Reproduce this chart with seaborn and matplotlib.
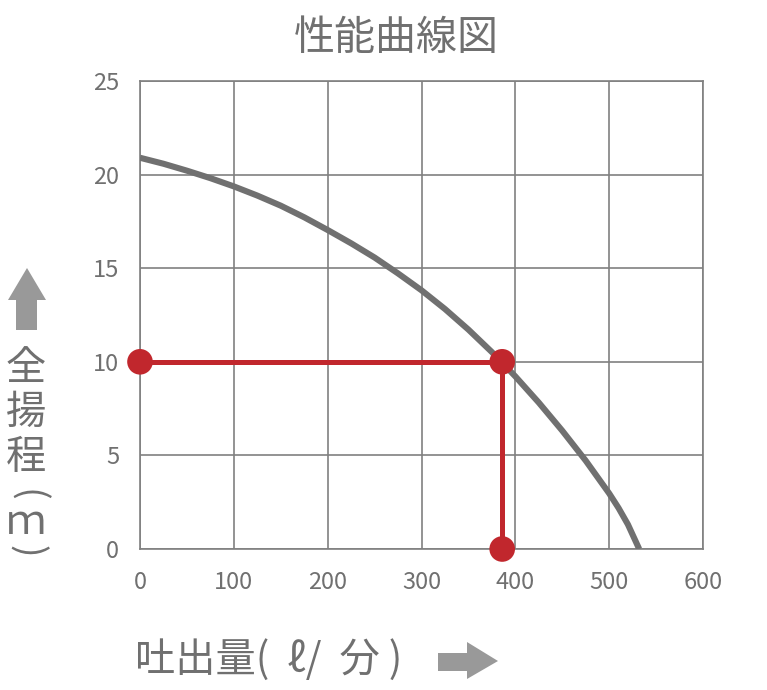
import numpy as np
import pandas as pd
import matplotlib
matplotlib.use('Agg')
import matplotlib.pyplot as plt
from matplotlib.patches import Polygon
import seaborn as sns

# curve
caudal = [0, 25, 50, 75, 100, 125, 150, 175, 200, 225, 250, 275, 300,
          325, 350, 375, 400, 425, 450, 475, 500, 510, 520, 532]
altura = [20.9, 20.58, 20.21, 19.81, 19.37, 18.88, 18.34, 17.72, 17.04,
          16.33, 15.57, 14.72, 13.82, 12.82, 11.72, 10.52, 9.22, 7.82,
          6.32, 4.72, 2.97, 2.19, 1.31, 0.0]

# operating point
punto_x = [0, 386, 386]
punto_y = [10, 10, 0]

xticks = [0, 100, 200, 300, 400, 500, 600]
yticks = [0, 5, 10, 15, 20, 25]

gris = '#707070'
rojo = '#c1272d'
gris_flecha = '#999999'

sns.set_theme(style='white')
plt.rcParams['font.family'] = ['Noto Sans CJK JP', 'DejaVu Sans']

curva = pd.DataFrame({'q': caudal, 'h': altura})
punto = pd.DataFrame({'q': punto_x, 'h': punto_y})

fig = plt.figure(figsize=(7.67, 6.9), dpi=100)
ax = fig.add_axes([140/767, 1-549/690, 563/767, 468/690])

sns.lineplot(data=curva, x='q', y='h', ax=ax, color=gris, linewidth=4.4,
             sort=False, estimator=None, solid_capstyle='butt',
             solid_joinstyle='round', zorder=3)
sns.lineplot(data=punto, x='q', y='h', ax=ax, color=rojo, linewidth=3.6,
             sort=False, estimator=None, zorder=4)
sns.scatterplot(data=punto, x='q', y='h', ax=ax, color=rojo, s=340,
                edgecolor='none', zorder=5, clip_on=False)

ax.set_xlim(0, 600)
ax.set_ylim(0, 25)
ax.set_xticks(xticks)
ax.set_yticks(yticks)
ax.grid(True, color='#808080', linewidth=1.2)
ax.set_axisbelow(True)
for s in ax.spines.values():
    s.set_visible(True)
    s.set_color('#808080')
    s.set_linewidth(1.2)
ax.tick_params(axis='both', length=0, labelsize=17, labelcolor=gris)
ax.tick_params(axis='x', pad=16)
ax.tick_params(axis='y', pad=15)
ax.set_xlabel('')
ax.set_ylabel('')

fig.text(0.517, 1-38/690, '性能曲線図', ha='center', va='center',
         fontsize=29.5, color=gris)

# vertical y label
for ch, yy in [('全', 368), ('揚', 412), ('程', 458), ('ｍ', 523)]:
    fig.text(26/767, 1-yy/690, ch, ha='center', va='center', fontsize=29,
             color=gris)
fig.text(26/767, 1-495/690, '(', ha='center', va='center', fontsize=27,
         color=gris, rotation=-90)
fig.text(26/767, 1-551/690, ')', ha='center', va='center', fontsize=27,
         color=gris, rotation=-90)

fig.text(135/767, 1-660/690, '吐出量(  ℓ/  分 )', ha='left', va='center',
         fontsize=29, color=gris)

# arrows
def px(x, y):
    return (x/767, 1-y/690)

arriba = [px(8, 300), px(27, 268), px(46, 300), px(37, 300), px(37, 330),
          px(16, 330), px(16, 300)]
fig.patches.append(Polygon(arriba, closed=True, transform=fig.transFigure,
                           facecolor=gris_flecha, edgecolor='none'))
derecha = [px(438, 653), px(467, 653), px(467, 642), px(498, 661),
           px(467, 679), px(467, 671), px(438, 671)]
fig.patches.append(Polygon(derecha, closed=True, transform=fig.transFigure,
                           facecolor=gris_flecha, edgecolor='none'))

plt.savefig('out.png', dpi=100)
